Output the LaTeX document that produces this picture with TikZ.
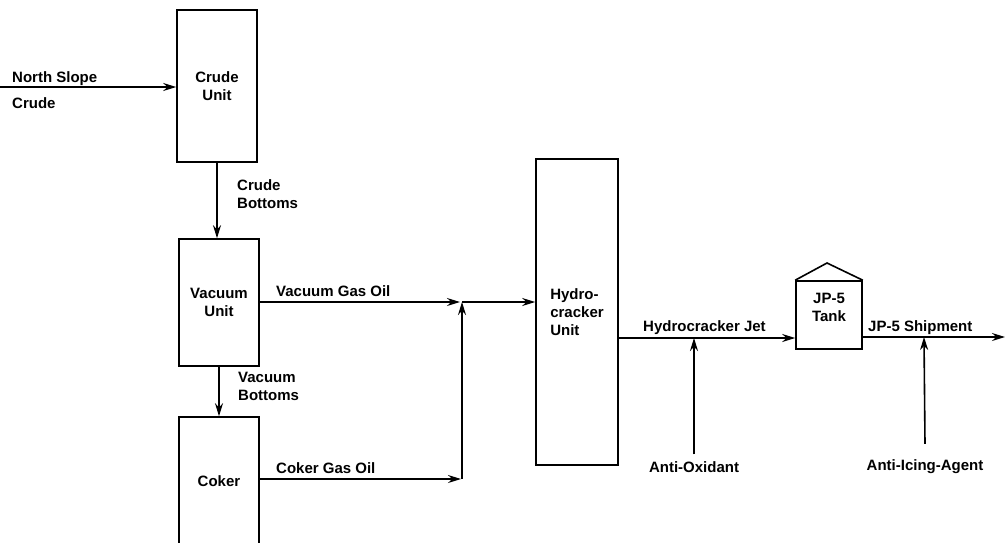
\documentclass[tikz,border=0pt]{standalone}
\usepackage{fontspec}
\setmainfont{Liberation Sans}
\usetikzlibrary{arrows.meta,positioning,calc}

\begin{document}
\begin{tikzpicture}[
    x=1pt, y=-1pt,
    every node/.style={font=\fontsize{15}{18}\selectfont\bfseries},
    unit/.style={draw, line width=1.6pt, minimum width=80pt, align=center, inner sep=0pt},
    lbl/.style={anchor=base west, inner sep=0pt},
    flow/.style={-{Stealth[length=13pt, width=8pt]}, line width=1.6pt},
    pipe/.style={line width=1.6pt}
]
    \clip (0,0) rectangle (1007,542);

    % Process units
    \node[unit, minimum height=152pt] (crude) at (217,86) {Crude\\Unit};
    \node[unit, minimum height=127pt] (vac) at (219,302.5) {Vacuum\\Unit};
    \node[unit, minimum height=128pt] (coker) at (219,481) {Coker};
    \node[unit, minimum width=82pt, minimum height=306pt, align=left] (hydro) at (577,312) {Hydro-\\cracker\\Unit};

    % JP-5 tank with roof
    \node[unit, minimum width=66pt, minimum height=68pt] (tank) at (829,315) {};
    \node[align=center, inner sep=0pt] (tanklbl) at (829,307) {JP-5\\Tank};
    \draw[pipe, line join=miter] (tank.north west) -- (827,263) -- (tank.north east);

    % Junction points
    \coordinate (feed) at (0,87);
    \coordinate (jct) at (462,302);
    \coordinate (cgo) at (462,479);
    \coordinate (jet) at (694,338);
    \coordinate (ship) at (924,337);
    \coordinate (out) at (1005,337);

    % Additive sources
    \node[inner sep=1pt] (antiox) at (694,467) {Anti-Oxidant};
    \node[inner sep=1pt] (antiice) at (925,467) {Anti-Icing-Agent};

    % Main flows
    \draw[flow] (feed) -- (crude.west |- feed);
    \node[lbl] (nslope) at (12,82) {North Slope};
    \node[lbl] (nscrude) at (12,108) {Crude};

    \draw[flow] (crude.south) -- (crude.south |- vac.north);
    \node[anchor=west, align=left, inner sep=0pt] (cbot) at (237,194) {Crude\\Bottoms};

    \draw[flow] (vac.south) -- (coker.north);
    \node[anchor=west, align=left, inner sep=0pt] (vbot) at (238,386) {Vacuum\\Bottoms};

    \draw[flow, shorten >=2pt] (vac.east |- jct) -- (jct);
    \node[lbl] (vgo) at (276,296) {Vacuum Gas Oil};

    \draw[flow, shorten >=1pt] (coker.east |- cgo) -- (cgo);
    \draw[flow] (cgo) -- (jct);
    \node[lbl] (cgolbl) at (276,473) {Coker Gas Oil};

    \draw[flow] (jct) -- (jct -| hydro.west);

    \draw[flow] (hydro.east |- jet) -- (tank.west |- jet);
    \node[lbl] (hjet) at (643,331) {Hydrocracker Jet};
    \draw[flow] ($(antiox.north)+(0,-6)$) -- (jet);

    \draw[flow] (tank.east |- ship) -- (out);
    \node[lbl] (shiplbl) at (868,331) {JP-5 Shipment};
    \draw[flow] ($(antiice.north)+(0,-15)$) -- (ship);
\end{tikzpicture}
\end{document}
